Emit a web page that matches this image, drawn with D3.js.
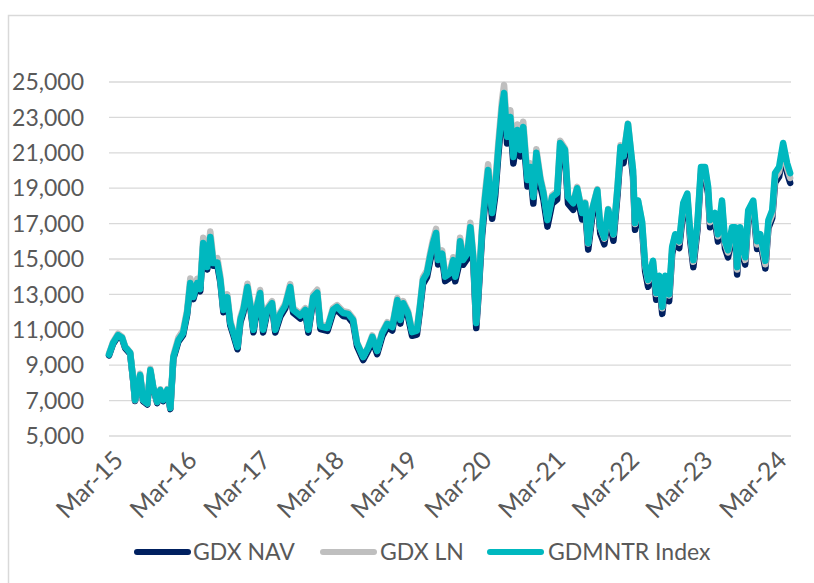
<!DOCTYPE html>
<html>
<head>
<meta charset="utf-8">
<script src="https://cdn.jsdelivr.net/npm/d3@7"></script>
<style>
    body { margin: 0; background: #fff; }
    svg { display: block; font-family: Lato, "Open Sans", sans-serif; }
    .tick-label { fill: #595959; font-size: 23px; }
    .x-label { fill: #595959; font-size: 25px; }
</style>
</head>
<body>
<svg width="814" height="583"></svg>
<script>
// values
const dates = [
    "2015-03-01","2015-03-21","2015-04-15","2015-05-05","2015-05-20","2015-06-14","2015-06-29","2015-07-08","2015-07-23","2015-08-02",
    "2015-08-17","2015-09-07","2015-09-22","2015-10-06","2015-10-26","2015-11-10","2015-11-25","2015-12-15","2015-12-30","2016-01-14",
    "2016-02-08","2016-03-02","2016-03-22","2016-04-07","2016-04-22","2016-05-11","2016-05-26","2016-06-10","2016-06-30","2016-07-15",
    "2016-07-30","2016-08-19","2016-09-03","2016-09-18","2016-10-07","2016-10-22","2016-11-07","2016-11-27","2016-12-11","2016-12-26",
    "2017-01-15","2017-01-30","2017-02-14","2017-03-04","2017-03-19","2017-04-03","2017-04-23","2017-05-17","2017-06-02","2017-06-27",
    "2017-07-21","2017-08-15","2017-08-30","2017-10-04","2017-10-29","2017-11-13","2017-12-07","2017-12-27","2018-01-12","2018-02-16",
    "2018-03-15","2018-04-04","2018-05-04","2018-05-29","2018-06-23","2018-07-12","2018-08-12","2018-09-06","2018-09-26","2018-10-20",
    "2018-11-14","2018-12-09","2019-01-03","2019-01-28","2019-02-12","2019-02-26","2019-03-22","2019-04-11","2019-05-05","2019-05-20",
    "2019-06-04","2019-06-24","2019-07-09","2019-07-24","2019-08-08","2019-08-18","2019-09-07","2019-09-22","2019-10-17","2019-11-01",
    "2019-11-11","2019-11-26","2019-12-05","2019-12-20","2020-01-10","2020-01-25","2020-02-09","2020-02-23","2020-03-03","2020-03-23",
    "2020-04-07","2020-04-22","2020-05-12","2020-05-27","2020-06-11","2020-06-30","2020-07-10","2020-07-25","2020-08-10","2020-08-25",
    "2020-09-14","2020-09-29","2020-10-13","2020-11-03","2020-11-18","2020-12-02","2020-12-17","2021-01-06","2021-01-21","2021-02-10",
    "2021-03-05","2021-03-30","2021-04-14","2021-05-08","2021-05-23","2021-06-18","2021-07-07","2021-08-01","2021-08-16","2021-08-31",
    "2021-09-20","2021-10-15","2021-10-30","2021-11-19","2021-12-08","2022-01-03","2022-01-23","2022-02-07","2022-02-22","2022-03-16",
    "2022-04-10","2022-04-20","2022-05-05","2022-05-25","2022-06-09","2022-06-24","2022-07-18","2022-08-03","2022-08-18","2022-09-02",
    "2022-09-17","2022-10-06","2022-10-21","2022-11-05","2022-11-25","2022-12-15","2023-01-04","2023-01-19","2023-02-03","2023-02-23",
    "2023-03-13","2023-04-02","2023-04-17","2023-04-27","2023-05-21","2023-06-05","2023-06-25","2023-07-10","2023-07-25","2023-08-14",
    "2023-08-29","2023-09-08","2023-09-23","2023-10-18","2023-11-02","2023-11-27","2023-12-16","2024-01-01","2024-01-26","2024-02-10",
    "2024-02-29","2024-03-14","2024-04-03","2024-04-23","2024-05-13","2024-05-28"
];

const gdxNav = [
    9550,10200,10640,10490,9970,9640,8100,6980,7710,8390,
    6970,6780,8660,7700,6860,7540,6970,7530,6520,9380,
    10330,10700,11840,13520,12730,13510,13170,15760,14410,16090,
    14620,14650,13670,11990,12710,11250,10670,9900,11410,11980,
    13270,12200,10860,12200,12930,10850,11970,12350,10850,11750,
    12200,13260,11960,11640,11960,10840,12690,12940,11040,10940,
    11950,12120,11780,11730,11380,10080,9290,9830,10420,9620,
    10620,11150,10960,12480,11350,12300,11740,10660,10730,12080,
    13580,13970,14870,15660,16220,14690,15050,13750,13950,14680,
    13740,14490,15730,14670,15020,16510,14710,11100,12560,16330,
    18180,19700,17270,18560,20810,23230,24010,21530,22650,20390,
    21920,20790,22090,19090,19830,18130,20630,19090,18360,16830,
    18130,18360,21180,20790,18130,17780,18630,17230,17780,15530,
    17430,18530,16430,15830,17430,16030,18620,20950,20420,22250,
    19650,16650,17920,16720,14320,13430,14520,12700,13670,11900,
    13660,12610,15290,16010,15610,17760,18300,16000,14540,16600,
    19790,19790,18690,16790,17190,15990,17890,15590,15090,16380,
    16380,14130,16380,14680,17330,17870,15570,15960,14460,16750,
    17310,19310,19650,21000,19850,19300
];

const gdxLn = [
    9650,10300,10780,10600,10060,9720,8180,7020,7800,8520,
    7040,6850,8800,7800,6930,7640,7050,7650,6600,9560,
    10560,10950,12100,13900,13000,13880,13480,16200,14750,16550,
    15000,15050,14000,12250,13000,11500,10900,10120,11700,12250,
    13600,12480,11100,12480,13250,11100,12230,12620,11080,12000,
    12460,13580,12220,11900,12220,11080,12990,13260,11290,11180,
    12230,12400,12050,12000,11640,10300,9480,10050,10680,9840,
    10880,11430,11230,12800,11640,12620,12050,10950,11030,12420,
    13960,14360,15300,16100,16700,15100,15480,14150,14350,15100,
    14130,14900,16200,15100,15480,17050,15180,11450,12980,16850,
    18750,20350,17850,19200,21500,24000,24830,22250,23400,21050,
    22600,21400,22750,19650,20400,18650,21200,19600,18850,17300,
    18600,18830,21680,21250,18550,18200,19080,17620,18200,15880,
    17830,18950,16780,16150,17820,16380,19050,21420,20850,22650,
    20000,16980,18280,17050,14640,13750,14860,13020,14000,12220,
    14000,12940,15620,16340,15930,18080,18620,16300,14840,16900,
    20100,20100,18980,17080,17480,16280,18180,15880,15370,16660,
    16660,14410,16650,14950,17600,18120,15820,16210,14700,16980,
    17530,19600,19930,21280,20120,19580
];

const gdmntr = [
    9600,10250,10700,10550,10030,9700,8160,7030,7770,8450,
    7030,6840,8730,7770,6920,7600,7030,7600,6580,9460,
    10420,10800,11950,13640,12850,13640,13300,15900,14550,16240,
    14770,14800,13810,12120,12850,11380,10800,10030,11550,12120,
    13420,12350,11000,12350,13080,11000,12120,12500,11000,11900,
    12350,13420,12120,11800,12120,11000,12850,13100,11200,11100,
    12120,12290,11950,11900,11550,10250,9460,10000,10600,9800,
    10800,11340,11150,12680,11550,12500,11950,10870,10950,12300,
    13810,14200,15110,15900,16470,14940,15300,14000,14200,14940,
    14000,14750,16000,14940,15300,16800,15000,11380,12850,16640,
    18500,20030,17600,18900,21160,23590,24380,21900,23020,20760,
    22290,21160,22460,19460,20200,18500,21000,19460,18730,17200,
    18500,18730,21550,21160,18500,18150,19000,17600,18150,15900,
    17800,18900,16800,16200,17800,16400,19000,21330,20800,22630,
    20030,17030,18300,17100,14700,13810,14900,13080,14050,12290,
    14050,13000,15680,16400,16000,18160,18700,16400,14940,17000,
    20200,20200,19100,17200,17600,16400,18300,16000,15500,16800,
    16800,14550,16800,15100,17760,18300,16000,16400,14900,17200,
    17760,19860,20200,21550,20400,19850
];

const seriesNames = ["GDX NAV", "GDX LN", "GDMNTR Index"];
const seriesColors = ["#002060", "#BFBFBF", "#00B8BF"];
const yTicks = [5000, 7000, 9000, 11000, 13000, 15000, 17000, 19000, 21000, 23000, 25000];
const xTicks = ["2015-03-01","2016-03-01","2017-03-01","2018-03-01","2019-03-01",
                "2020-03-01","2021-03-01","2022-03-01","2023-03-01","2024-03-01"];
const xStart = "2015-03-01", xEnd = "2024-06-01";

const parse = d3.timeParse("%Y-%m-%d");
const svg = d3.select("svg");

const x = d3.scaleTime()
    .domain([parse(xStart), parse(xEnd)])
    .range([109, 791]);

const y = d3.scaleLinear()
    .domain([5000, 25000])
    .range([436, 82]);

// chart frame (only top and left edges fall inside the picture)
svg.append("rect")
    .attr("x", 8.5).attr("y", 15.5)
    .attr("width", 900).attr("height", 700)
    .attr("fill", "none")
    .attr("stroke", "#D9D9D9")
    .attr("stroke-width", 1.5);

function drawGrid() {
    svg.append("g")
        .selectAll("line")
        .data(yTicks)
        .join("line")
        .attr("x1", x.range()[0]).attr("x2", x.range()[1])
        .attr("y1", d => y(d)).attr("y2", d => y(d))
        .attr("stroke", "#D9D9D9")
        .attr("stroke-width", 1.3);

    const fmt = d3.format(",");
    svg.append("g")
        .selectAll("text")
        .data(yTicks)
        .join("text")
        .attr("class", "tick-label")
        .attr("x", 84)
        .attr("y", d => y(d))
        .attr("dy", "0.36em")
        .attr("text-anchor", "end")
        .text(d => fmt(d));
}

function drawXLabels() {
    const fmt = d3.timeFormat("%b-%y");
    svg.append("g")
        .selectAll("text")
        .data(xTicks.map(parse))
        .join("text")
        .attr("class", "x-label")
        .attr("transform", d => `translate(${x(d) + 3},${449}) rotate(-45)`)
        .attr("text-anchor", "end")
        .attr("dy", "0.72em")
        .text(d => fmt(d));
}

function drawLines() {
    const all = [gdxNav, gdxLn, gdmntr];
    const line = d3.line()
        .x((d, i) => x(parse(dates[i])))
        .y(d => y(d));

    svg.append("g")
        .selectAll("path")
        .data(all)
        .join("path")
        .attr("d", d => line(d))
        .attr("fill", "none")
        .attr("stroke", (d, i) => seriesColors[i])
        .attr("stroke-width", 6.5)
        .attr("stroke-linejoin", "round")
        .attr("stroke-linecap", "round");
}

function drawLegend() {
    const items = [
        { x: 137, textX: 193 },
        { x: 323, textX: 380 },
        { x: 490, textX: 548 }
    ];
    const g = svg.append("g").attr("transform", "translate(0,552)");
    items.forEach((it, i) => {
        g.append("line")
            .attr("x1", it.x).attr("x2", it.x + 51)
            .attr("y1", 0).attr("y2", 0)
            .attr("stroke", seriesColors[i])
            .attr("stroke-width", 6)
            .attr("stroke-linecap", "round");
        g.append("text")
            .attr("class", "tick-label")
            .attr("x", it.textX)
            .attr("dy", "0.36em")
            .text(seriesNames[i]);
    });
}

drawGrid();
drawXLabels();
drawLines();
drawLegend();
</script>
</body>
</html>
